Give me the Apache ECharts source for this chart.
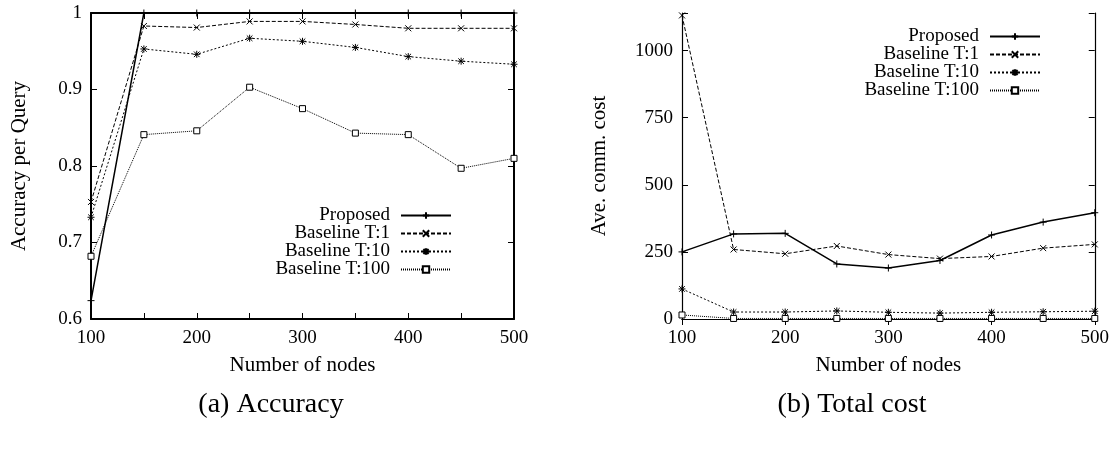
<!DOCTYPE html>
<html>
<head>
<meta charset="utf-8">
<script src="https://cdn.jsdelivr.net/npm/echarts@6/dist/echarts.min.js"></script>
<style>
html,body{margin:0;padding:0;background:#fff;}
#chart{width:1112px;height:457px;}
</style>
</head>
<body>
<div id="chart"></div>
<script>
// ---- data ----
const nodes = [100, 150, 200, 250, 300, 350, 400, 450, 500];
const seriesNames = ['Proposed', 'Baseline T:1', 'Baseline T:10', 'Baseline T:100'];

const accProposed = [0.624, 1.0, 1.0, 1.0, 1.0, 1.0, 1.0, 1.0, 1.0];
const accT1       = [0.753, 0.983, 0.981, 0.989, 0.989, 0.985, 0.980, 0.980, 0.980];
const accT10      = [0.733, 0.953, 0.946, 0.967, 0.963, 0.955, 0.943, 0.937, 0.933];
const accT100     = [0.682, 0.841, 0.846, 0.903, 0.875, 0.843, 0.841, 0.797, 0.810];

const costProposed = [250, 317, 319, 205, 190, 218, 313, 361, 396];
const costT1       = [1131, 259, 243, 272, 240, 225, 233, 264, 278];
const costT10      = [112, 26, 26, 30, 25, 22, 25, 27, 29];
const costT100     = [15, 2, 2, 2, 2, 2, 2, 2, 2];

const accTicks = [0.6, 0.7, 0.8, 0.9, 1];
const costTicks = [0, 250, 500, 750, 1000];
const xLabels = [100, 200, 300, 400, 500];

const captions = ['(a) Accuracy', '(b) Total cost'];
const xTitle = 'Number of nodes';
const yTitles = ['Accuracy per Query', 'Ave. comm. cost'];

// ---- styles ----
const FONT = 'Liberation Serif';
const symPlus = 'path://M0,5L10,5M5,0L5,10';
const symCross = 'path://M0,0L10,10M10,0L0,10';
const symStar = 'path://M0,5L10,5M5,0L5,10M1,1L9,9M9,1L1,9';
const styles = [
  {symbol: symPlus, size: 7, dash: 'solid', width: 1.5, fill: '#000'},
  {symbol: symCross, size: 6, dash: [4, 2], width: 1, fill: '#000'},
  {symbol: symStar, size: 7, dash: [2, 2], width: 1, fill: '#000'},
  {symbol: 'rect', size: 6, dash: [1, 1], width: 1, fill: '#fff'}
];

function mk(name, data, gi, st) {
  return {
    type: 'line', name: name,
    xAxisIndex: gi * 2, yAxisIndex: gi * 2,
    data: nodes.map((n, i) => [n, data[i]]),
    symbol: st.symbol, symbolSize: st.size,
    showAllSymbol: true,
    lineStyle: {color: '#000', width: st.width, type: st.dash},
    itemStyle: {color: st.fill, borderColor: '#000', borderWidth: 1},
    emphasis: {disabled: true},
    animation: false,
    clip: true,
    z: 3
  };
}

const tickLabel = {fontFamily: FONT, fontSize: 19, color: '#000'};

function xAxes(gi, interval, lw) {
  const base = {
    type: 'value', gridIndex: gi, min: 100, max: 500, interval: interval,
    axisLine: {show: true, lineStyle: {color: '#000', width: lw}},
    axisTick: {show: true, inside: true, length: 6, lineStyle: {color: '#000', width: 1}},
    splitLine: {show: false}
  };
  return [
    Object.assign({}, base, {
      position: 'bottom',
      name: xTitle, nameLocation: 'middle', nameGap: 36,
      nameTextStyle: {fontFamily: FONT, fontSize: 21, color: '#000'},
      axisLabel: Object.assign({}, tickLabel, {margin: 10,
        formatter: v => (xLabels.indexOf(v) >= 0 ? String(v) : '')})
    }),
    Object.assign({}, base, {position: 'top', axisLabel: {show: false}})
  ];
}

function yAxes(gi, min, max, interval, fmt, nameGap, lw) {
  const base = {
    type: 'value', gridIndex: gi, min: min, max: max, interval: interval,
    axisLine: {show: true, lineStyle: {color: '#000', width: lw}},
    axisTick: {show: true, inside: true, length: 6, lineStyle: {color: '#000', width: 1}},
    splitLine: {show: false}
  };
  return [
    Object.assign({}, base, {
      position: 'left',
      name: yTitles[gi], nameLocation: 'middle', nameGap: nameGap, nameRotate: 90,
      nameTextStyle: {fontFamily: FONT, fontSize: 21, color: '#000'},
      axisLabel: Object.assign({}, tickLabel, {margin: 9, formatter: fmt})
    }),
    Object.assign({}, base, {position: 'right', axisLabel: {show: false}})
  ];
}

const accFmt = v => {
  const hit = accTicks.find(t => Math.abs(v - t) < 1e-6);
  return hit === undefined ? '' : String(hit);
};
const costFmt = v => {
  const hit = costTicks.find(t => Math.abs(v - t) < 1e-6);
  return hit === undefined ? '' : String(hit);
};

const xa = xAxes(0, 50, 2).concat(xAxes(1, 100, 1.2));
const ya0 = yAxes(0, 0.6, 1, 0.1, accFmt, 61, 2);
const ya1 = yAxes(1, 0, 1140, 250, costFmt, 72, 1.2);
const yAxisArr = [ya0[0], ya0[1], ya1[0], ya1[1]];

const accData = [accProposed, accT1, accT10, accT100];
const costData = [costProposed, costT1, costT10, costT100];
const series = [];
seriesNames.forEach((n, i) => series.push(mk(n, accData[i], 0, styles[i])));
seriesNames.forEach((n, i) => series.push(mk(n, costData[i], 1, styles[i])));

const legendBase = {
  orient: 'vertical', align: 'right',
  itemWidth: 50, itemHeight: 8, itemGap: -1,
  data: seriesNames,
  textStyle: {fontFamily: FONT, fontSize: 19, color: '#000', lineHeight: 17, padding: [0, 6, 0, 0]},
  selectedMode: false,
  inactiveColor: '#000'
};

const option = {
  animation: false,
  backgroundColor: '#fff',
  grid: [
    {left: 91, top: 13, width: 423, height: 306},
    {left: 682, top: 13, width: 413, height: 306}
  ],
  xAxis: xa,
  yAxis: yAxisArr,
  legend: [
    Object.assign({}, legendBase, {right: 655, top: 201}),
    Object.assign({}, legendBase, {right: 66, top: 22})
  ],
  graphic: [
    {type: 'text', x: 271, y: 405, style: {text: captions[0], textAlign: 'center', textVerticalAlign: 'middle', fontFamily: FONT, fontSize: 28, fill: '#000'}},
    {type: 'text', x: 852, y: 405, style: {text: captions[1], textAlign: 'center', textVerticalAlign: 'middle', fontFamily: FONT, fontSize: 28, fill: '#000'}}
  ],
  series: series
};

const chart = echarts.init(document.getElementById('chart'), null, {renderer: 'canvas'});
chart.setOption(option);
</script>
</body>
</html>
